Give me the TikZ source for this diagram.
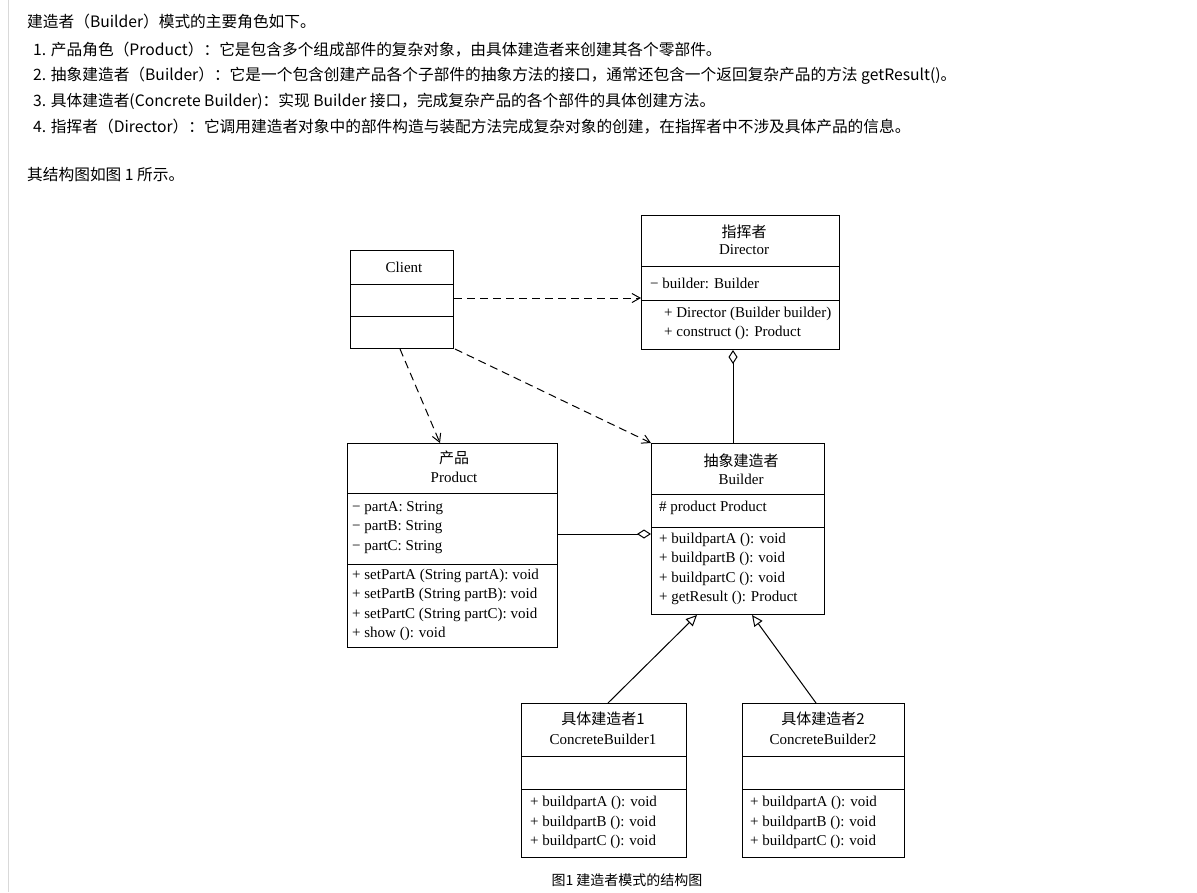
\documentclass[tikz,border=0pt]{standalone}
\usepackage{fontspec}
\setmainfont{Liberation Serif}
\newfontfamily\cjk{Noto Sans CJK SC}
\usetikzlibrary{arrows.meta}
\tikzset{
 box/.style={draw,line width=1pt,anchor=north west,inner sep=0pt},
 div/.style={line width=1pt},
 t/.style={font=\fontsize{15}{17}\selectfont,inner sep=0pt},
 m/.style={font=\fontsize{15}{17}\selectfont,inner sep=0pt,anchor=west},
 top/.style={font=\cjk\fontsize{15.7}{18}\selectfont,inner sep=0pt,anchor=west},
 dep/.style={dashed,dash pattern=on 8pt off 5pt,line width=1pt,-{Straight Barb[length=8pt,width=9pt]}},
 agg/.style={line width=1pt,{Diamond[open,length=14pt,width=9pt]}-},
 inh/.style={line width=1pt,-{Triangle[open,length=11pt,width=10pt]}},
}
\begin{document}
\begin{tikzpicture}[x=1pt,y=-1pt]
\useasboundingbox[fill=white] (0,0) rectangle (1197,892);
\draw[gray!30] (8,0) -- (8,892);
\node[top] (l0) at (27,22) {建造者（Builder）模式的主要角色如下。};
\node[top] (l1) at (33,50) {1. 产品角色（Product）：它是包含多个组成部件的复杂对象，由具体建造者来创建其各个零部件。};
\node[top] (l2) at (33,76) {2. 抽象建造者（Builder）：它是一个包含创建产品各个子部件的抽象方法的接口，通常还包含一个返回复杂产品的方法 getResult()。};
\node[top] (l3) at (33,101) {3. 具体建造者(Concrete Builder)：实现 Builder 接口，完成复杂产品的各个部件的具体创建方法。};
\node[top] (l4) at (33,127) {4. 指挥者（Director）：它调用建造者对象中的部件构造与装配方法完成复杂对象的创建，在指挥者中不涉及具体产品的信息。};
\node[top] (l5) at (27,175) {其结构图如图 1 所示。};
\node[top,anchor=center,font=\cjk\fontsize{14}{16}\selectfont] (cap) at (627,880) {图1 建造者模式的结构图};
% Client
\node[box,minimum width=103pt,minimum height=98pt] (client) at (350,250) {};
\draw[div] (350,284) -- (453,284) (350,316) -- (453,316);
\node[t] (clientt) at (404,267) {Client};
% Director
\node[box,minimum width=198pt,minimum height=134pt] (dir) at (641,215) {};
\draw[div] (641,266) -- (839,266) (641,300) -- (839,300);
\node[t] (dir1) at (744,232) {\cjk 指挥者};
\node[t] (dir2) at (744,250) {Director};
\node[m] (dira) at (650,283) {− builder: Builder};
\node[m] (dirm1) at (664,314) {+ Director (Builder builder)};
\node[m] (dirm2) at (664,333) {+ construct (): Product};
% Product
\node[box,minimum width=210pt,minimum height=204pt] (prod) at (347,443) {};
\draw[div] (347,493) -- (557,493) (347,564) -- (557,564);
\node[t] (p1) at (454,458) {\cjk 产品};
\node[t] (p2) at (454,477) {Product};
\node[m] at (352,508) {− partA: String};
\node[m] at (352,527) {− partB: String};
\node[m] at (352,547) {− partC: String};
\node[m] at (352,576) {+ setPartA (String partA): void};
\node[m] at (352,595) {+ setPartB (String partB): void};
\node[m] at (352,615) {+ setPartC (String partC): void};
\node[m] at (352,634) {+ show (): void};
% Builder
\node[box,minimum width=173pt,minimum height=171pt] (bld) at (651,443) {};
\draw[div] (651,494) -- (824,494) (651,527) -- (824,527);
\node[t] at (741,461) {\cjk 抽象建造者};
\node[t] at (741,479) {Builder};
\node[m] at (659,508) {\# product Product};
\node[m] at (659,540) {+ buildpartA (): void};
\node[m] at (659,559) {+ buildpartB (): void};
\node[m] at (659,579) {+ buildpartC (): void};
\node[m] at (659,598) {+ getResult (): Product};
% CB1
\node[box,minimum width=165pt,minimum height=154pt] (cb1) at (521,703) {};
\draw[div] (521,756) -- (686,756) (521,789) -- (686,789);
\node[t] at (603,719) {\cjk 具体建造者1};
\node[t] at (603,739) {ConcreteBuilder1};
\node[m] at (530,803) {+ buildpartA (): void};
\node[m] at (530,823) {+ buildpartB (): void};
\node[m] at (530,842) {+ buildpartC (): void};
% CB2
\node[box,minimum width=162pt,minimum height=154pt] (cb2) at (742,703) {};
\draw[div] (742,756) -- (904,756) (742,789) -- (904,789);
\node[t] at (823,719) {\cjk 具体建造者2};
\node[t] at (823,739) {ConcreteBuilder2};
\node[m] at (750,803) {+ buildpartA (): void};
\node[m] at (750,823) {+ buildpartB (): void};
\node[m] at (750,842) {+ buildpartC (): void};
% connectors
\draw[dep] (client.east |- 0,298) -- (dir.west |- 0,298);
\draw[dep] (client.south -| 400,0) -- (prod.north -| 440,0);
\draw[dep] (client.south -| 455,0) -- (bld.north west);
\draw[agg] (dir.south -| 733,0) -- (bld.north -| 733,0);
\draw[agg] (bld.west |- 0,534) -- (prod.east |- 0,534);
\draw[inh] (cb1.north -| 608,0) -- (bld.south -| 697,0);
\draw[inh] (cb2.north -| 816,0) -- (bld.south -| 752,0);
\end{tikzpicture}
\end{document}
